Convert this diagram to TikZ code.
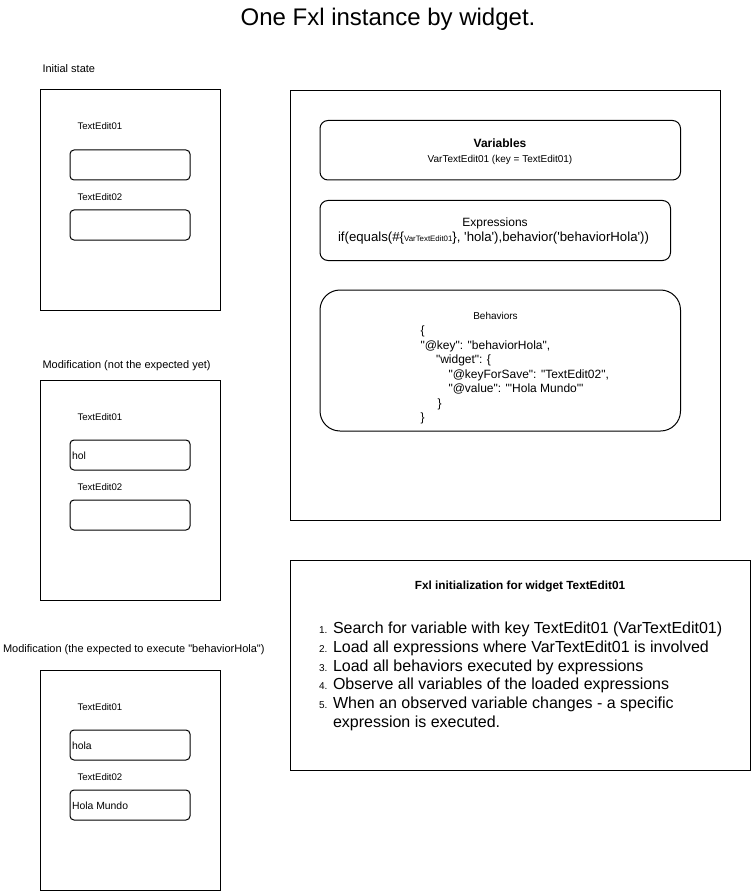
\documentclass[tikz,border=0pt]{standalone}
\usepackage{fontspec}
\newfontfamily\lsans{Liberation Sans}
\begin{document}
\begin{tikzpicture}[x=0.75pt,y=-0.75pt,line width=0.75pt,
  lab/.style={inner sep=0pt,anchor=base west,font=\lsans\fontsize{8.25pt}{9.9pt}\selectfont},
  wlab/.style={lab,font=\lsans\fontsize{7.2pt}{8.6pt}\selectfont},
  val/.style={lab,font=\lsans\fontsize{7.8pt}{9pt}\selectfont},
  json/.style={lab,font=\lsans\fontsize{9pt}{10.8pt}\selectfont},
  item/.style={lab,font=\lsans\fontsize{12pt}{14pt}\selectfont},
  num/.style={lab,font=\lsans\fontsize{7.5pt}{9pt}\selectfont},
  ctr/.style={inner sep=0pt,anchor=base},
  frame/.style={draw},
  field/.style={draw,rounded corners=3pt},
  panel/.style={draw,rounded corners=6pt},
  bigpanel/.style={draw,rounded corners=15pt}]
\useasboundingbox (0,0) rectangle (751,891);

% title
\node[ctr,font=\lsans\fontsize{18pt}{20pt}\selectfont] (title) at (388,26) {One Fxl instance by widget.};

% ---- initial state
\node[lab] (capA) at (42,73) {Initial state};
\draw[frame] (40,90) rectangle (220,310);
\node[wlab] (a1) at (77,130) {TextEdit01};
\draw[field] (70,150) rectangle (190,180);
\node[wlab] (a2) at (77,200) {TextEdit02};
\draw[field] (70,210) rectangle (190,240);

% ---- modification (not expected)
\node[lab] (capB) at (42,368) {Modification (not the expected yet)};
\draw[frame] (40,380) rectangle (220,600);
\node[wlab] (b1) at (77,420) {TextEdit01};
\draw[field] (70,440) rectangle (190,470);
\node[val] (bv1) at (71.5,459) {hol};
\node[wlab] (b2) at (77,490) {TextEdit02};
\draw[field] (70,500) rectangle (190,530);

% ---- modification (expected)
\node[lab] (capC) at (2.5,652) {Modification (the expected to execute "behaviorHola")};
\draw[frame] (40,670) rectangle (220,890);
\node[wlab] (c1) at (77,710) {TextEdit01};
\draw[field] (70,730) rectangle (190,760);
\node[val] (cv1) at (71.5,749) {hola};
\node[wlab] (c2) at (77,780) {TextEdit02};
\draw[field] (70,790) rectangle (190,820);
\node[val] (cv2) at (71.5,809) {Hola Mundo};

% ---- right big box
\draw[frame] (290,91) rectangle (720,520);

\draw[panel] (320,120.5) rectangle (680.5,180);
\node[ctr,font=\lsans\bfseries\fontsize{9pt}{10pt}\selectfont] (vt) at (500,148) {Variables};
\node[ctr,font=\lsans\fontsize{7.5pt}{9pt}\selectfont] (vs) at (500,163) {VarTextEdit01 (key = TextEdit01)};

\draw[panel] (320,200.5) rectangle (670.5,260.5);
\node[ctr,font=\lsans\fontsize{9pt}{10pt}\selectfont] (et) at (495,227) {Expressions};
\node[ctr,font=\lsans\fontsize{9.9pt}{11pt}\selectfont] (es) at (493.5,241) {if(equals(\#\{{\fontsize{5.9pt}{7pt}\selectfont VarTextEdit01}\}, 'hola'),behavior('behaviorHola'))};

\draw[bigpanel] (320,290) rectangle (680.5,431);
\node[ctr,font=\lsans\fontsize{7.5pt}{9pt}\selectfont] (bt) at (495.5,319) {Behaviors};
\node[json] (j1) at (420,334.5) {\{};
\node[json] (j2) at (420,349) {"@key": "behaviorHola",};
\node[json] (j3) at (435.5,363.5) {"widget": \{};
\node[json] (j4) at (448,378) {"@keyForSave": "TextEdit02",};
\node[json] (j5) at (448,392.5) {"@value": "'Hola Mundo'"};
\node[json] (j6) at (437,407) {\}};
\node[json] (j7) at (420,421.5) {\}};

% ---- Fxl initialization box
\draw[frame] (290,560.5) rectangle (750,770);
\node[ctr,font=\lsans\bfseries\fontsize{8.85pt}{10pt}\selectfont] (ft) at (520,589) {Fxl initialization for widget TextEdit01};
\node[num] (n1) at (318.5,633.5) {1.};
\node[item] (i1) at (332.5,633.5) {Search for variable with key TextEdit01 (VarTextEdit01)};
\node[num] (n2) at (318.5,652.3) {2.};
\node[item] (i2) at (332.5,652.3) {Load all expressions where VarTextEdit01 is involved};
\node[num] (n3) at (318.5,671) {3.};
\node[item] (i3) at (332.5,671) {Load all behaviors executed by expressions};
\node[num] (n4) at (318.5,689.8) {4.};
\node[item] (i4) at (332.5,689.8) {Observe all variables of the loaded expressions};
\node[num] (n5) at (318.5,708.6) {5.};
\node[item] (i5) at (332.5,708.6) {When an observed variable changes - a specific};
\node[item] (i6) at (332.5,727.4) {expression is executed.};
\end{tikzpicture}
\end{document}
